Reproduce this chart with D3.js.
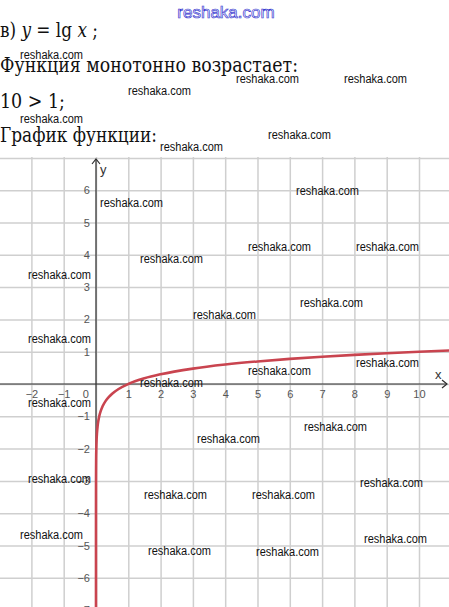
<!DOCTYPE html>
<html>
<head>
<meta charset="utf-8">
<script src="https://cdn.jsdelivr.net/npm/d3@7"></script>
<style>
  html, body { margin: 0; padding: 0; background: #fff; }
  svg { display: block; }
</style>
</head>
<body>
<svg id="page" width="449" height="607"></svg>
<script>
// Tabulated points of y = lg x
const curveX = [0.0000001, 0.000001, 0.00001, 0.0001, 0.001, 0.002, 0.005, 0.01, 0.02, 0.03, 0.05, 0.07, 0.1, 0.15, 0.2, 0.3, 0.4, 0.5, 0.7, 1, 1.5, 2, 3, 4, 5, 6, 7, 8, 9, 10, 11];
const curveY = [-7, -6, -5, -4, -3, -2.699, -2.301, -2, -1.699, -1.523, -1.301, -1.155, -1, -0.824, -0.699, -0.523, -0.398, -0.301, -0.155, 0, 0.176, 0.301, 0.477, 0.602, 0.699, 0.778, 0.845, 0.903, 0.954, 1, 1.041];

// Axis ticks
const xTicks = [-2, -1, 1, 2, 3, 4, 5, 6, 7, 8, 9, 10];
const yTicks = [-7, -6, -5, -4, -3, -2, -1, 1, 2, 3, 4, 5, 6];
const xGrid = [-2, -1, 0, 1, 2, 3, 4, 5, 6, 7, 8, 9, 10];
const yGrid = [-6, -5, -4, -3, -2, -1, 0, 1, 2, 3, 4, 5, 6, 7];

// Text lines above the graph
const headerLines = ["Функция монотонно возрастает:", "10 > 1;", "График функции:"];

// Watermark positions
const marks = [
  [20, 55], [236, 79], [344, 79], [128, 91], [20, 119], [268, 135], [160, 147],
  [296, 191], [100, 203], [248, 247], [356, 247], [140, 259], [28, 275],
  [300, 303], [193, 315], [28, 339], [356, 363], [248, 371], [140, 383],
  [28, 403], [304, 427], [197, 439], [28, 479], [360, 483], [144, 495],
  [252, 495], [20, 535], [364, 539], [148, 551], [256, 552]
];

const svg = d3.select("#page");

// Plot frame in pixels
const pLeft = 0, pRight = 449, pTop = 157, pBottom = 607;
const x = d3.scaleLinear().domain([-2.972, 10.929]).range([pLeft, pRight]);
const y = d3.scaleLinear().domain([-6.904, 7.028]).range([pBottom, pTop]);

const plot = svg.append("g");
plot.append("clipPath").attr("id", "clip")
  .append("rect").attr("x", pLeft).attr("y", pTop - 3)
  .attr("width", pRight - pLeft).attr("height", pBottom - pTop + 3);

// Grid
const gridColor = "#cfcfcf";
const grid = plot.append("g").attr("clip-path", "url(#clip)");
grid.append("g")
  .attr("transform", `translate(0,${pBottom})`)
  .call(d3.axisBottom(x).tickValues(xGrid).tickSize(-(pBottom - pTop)).tickFormat(""))
  .call(g => g.select(".domain").remove())
  .call(g => g.selectAll("line").attr("stroke", gridColor).attr("stroke-width", 1.5));
grid.append("g")
  .attr("transform", `translate(${pLeft},0)`)
  .call(d3.axisLeft(y).tickValues(yGrid).tickSize(-(pRight - pLeft)).tickFormat(""))
  .call(g => g.select(".domain").remove())
  .call(g => g.selectAll("line").attr("stroke", gridColor).attr("stroke-width", 1.5));

// Axes lines
const x0 = x(0), y0 = y(0);
const axisColor = "#2e2e2e";
plot.append("line").attr("x1", pLeft).attr("x2", pRight - 2).attr("y1", y0).attr("y2", y0)
  .attr("stroke", axisColor).attr("stroke-width", 1.2);
plot.append("line").attr("x1", x0).attr("x2", x0).attr("y1", pBottom).attr("y2", pTop + 2)
  .attr("stroke", axisColor).attr("stroke-width", 1.2);
// Arrow heads
plot.append("path")
  .attr("d", `M${pRight - 7},${y0 - 4} L${pRight - 2},${y0} L${pRight - 7},${y0 + 4}`)
  .attr("fill", "none").attr("stroke", axisColor).attr("stroke-width", 1.2);
plot.append("path")
  .attr("d", `M${x0 - 4},${pTop + 7} L${x0},${pTop + 2} L${x0 + 4},${pTop + 7}`)
  .attr("fill", "none").attr("stroke", axisColor).attr("stroke-width", 1.2);

// Tick labels
const tickFont = "'Liberation Sans', Arial, sans-serif";
const fmt = d => d < 0 ? "\u2212" + Math.abs(d) : String(d);
plot.append("g")
  .attr("transform", `translate(0,${y0})`)
  .call(d3.axisBottom(x).tickValues(xTicks).tickSize(0).tickPadding(6).tickFormat(fmt))
  .call(g => g.select(".domain").remove())
  .call(g => g.selectAll("text").attr("fill", "#555").attr("font-size", 11).attr("font-family", tickFont));
plot.append("g")
  .attr("transform", `translate(${x0},0)`)
  .call(d3.axisLeft(y).tickValues(yTicks).tickSize(0).tickPadding(6).tickFormat(fmt))
  .call(g => g.select(".domain").remove())
  .call(g => g.selectAll("text").attr("fill", "#555").attr("font-size", 11).attr("font-family", tickFont));
plot.append("text").attr("x", x0 - 7).attr("y", y0 + 14).attr("text-anchor", "end")
  .attr("fill", "#555").attr("font-size", 11).attr("font-family", tickFont).text("0");

// Axis names
plot.append("text").attr("x", x0 + 4).attr("y", pTop + 17)
  .attr("font-size", 13).attr("fill", "#333").attr("font-family", tickFont).text("y");
plot.append("text").attr("x", pRight - 14).attr("y", y0 - 5)
  .attr("font-size", 13).attr("fill", "#333").attr("font-family", tickFont).text("x");

// Curve
const pts = curveX.map((v, i) => [v, curveY[i]]);
plot.append("path")
  .datum(pts)
  .attr("clip-path", "url(#clip)")
  .attr("d", d3.line().x(d => x(d[0])).y(d => y(d[1])).curve(d3.curveMonotoneX))
  .attr("fill", "none").attr("stroke", "#c9444f").attr("stroke-width", 2.6);

// Header text
const serif = "'DejaVu Serif', 'Liberation Serif', serif";
const t1 = svg.append("text").attr("x", 0).attr("y", 37)
  .attr("font-family", serif).attr("font-size", 20).attr("fill", "#111")
  .attr("textLength", 98).attr("lengthAdjust", "spacingAndGlyphs");
t1.append("tspan").text("в) ");
t1.append("tspan").attr("font-style", "italic").text("y");
t1.append("tspan").text(" = lg ");
t1.append("tspan").attr("font-style", "italic").text("x");
t1.append("tspan").text(" ;");

const baselines = [72, 108, 142];
const widths = [298, 65, 157];
headerLines.forEach((s, i) => {
  svg.append("text").attr("x", 0).attr("y", baselines[i])
    .attr("font-family", serif).attr("font-size", 20).attr("fill", "#111")
    .attr("textLength", widths[i]).attr("lengthAdjust", "spacingAndGlyphs")
    .text(s);
});

// Watermarks
svg.append("text").attr("x", 226).attr("y", 18).attr("text-anchor", "middle")
  .attr("font-family", tickFont).attr("font-size", 17)
  .attr("fill", "#fff").attr("stroke", "#3a3ad0").attr("stroke-width", 0.7)
  .text("reshaka.com");
svg.append("g").selectAll("text").data(marks).join("text")
  .attr("x", d => d[0]).attr("y", d => d[1] + 4)
  .attr("font-family", tickFont).attr("font-size", 12).attr("fill", "#111")
  .attr("textLength", 63).attr("lengthAdjust", "spacingAndGlyphs")
  .text("reshaka.com");
</script>
</body>
</html>
